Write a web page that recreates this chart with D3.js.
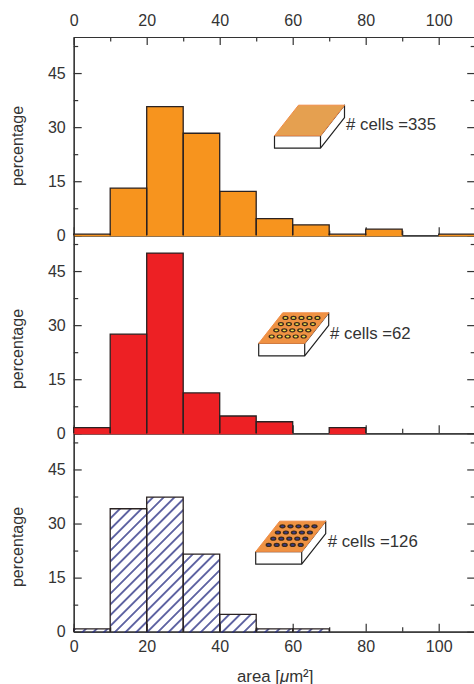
<!DOCTYPE html>
<html lang="en">
  <head>
    <meta charset="utf-8">
    <title>cell area histograms</title>
    <script src="https://d3js.org/d3.v7.min.js"></script>
    <style type="text/css">
        html, body { margin: 0; padding: 0; background: #fff; overflow: hidden; }
        svg { display: block; }
        text { font-family: "Liberation Sans", Arial, sans-serif; fill: #333; }
        .axis text { font-size: 16px; }
        .axis path, .axis line { stroke: #333; stroke-width: 1.2px; }
        .label { font-size: 16.8px; }
        .ylabel { font-size: 16px; }
    </style>
  </head>
  <body>
    <div id="chart"></div>
    <script>
        // bin edges and percentage per 10 um2 bin
        var binEdges = [0, 10, 20, 30, 40, 50, 60, 70, 80, 90, 100, 110];
        var orangeValues = [0.3, 13.1, 35.7, 28.3, 12.2, 4.6, 2.9, 0.3, 1.7, 0, 0.3];
        var redValues = [1.6, 27.5, 50, 11.2, 4.8, 3.2, 0, 1.6, 0, 0, 0];
        var hatchValues = [0.8, 34.1, 37.3, 21.5, 4.8, 0.8, 0.8, 0, 0, 0, 0];
        var cellCounts = [335, 62, 126];

        var xMajor = [0, 20, 40, 60, 80, 100];
        var xMinor = [10, 30, 50, 70, 90];
        var yMajor = [0, 15, 30, 45];
        var yMinor = [7.5, 22.5, 37.5, 52.5];

        var width = 474, height = 684;
        var panelHeight = 198.3;

        var svg = d3.select("#chart").append("svg")
            .attr("width", width)
            .attr("height", height);

        svg.append("defs").append("pattern")
            .attr("id", "hatch")
            .attr("patternUnits", "userSpaceOnUse")
            .attr("width", 7.6)
            .attr("height", 7.6)
            .attr("patternTransform", "rotate(45)")
          .append("line")
            .attr("x1", 3.8).attr("x2", 3.8)
            .attr("y1", 0).attr("y2", 7.6)
            .attr("stroke", "#232a80")
            .attr("stroke-width", 1.4);

        var x = d3.scaleLinear().domain([0, 110]).range([73.7, 475.2]);

        var panels = [
          {values: orangeValues, fill: "#f7941e", top: 37, count: cellCounts[0], tile: [274.5, 135.7], textAt: [346, 130], labelY: 146},
          {values: redValues, fill: "#ed2024", top: 235, count: cellCounts[1], tile: [258.7, 343.3], textAt: [330, 339], labelY: 349, dots: "#f4e04d"},
          {values: hatchValues, fill: "url(#hatch)", top: 433.4, count: cellCounts[2], tile: [255.7, 551.7], textAt: [327.7, 546.7], labelY: 547, dots: "#3b3a8c"}
        ];

        function drawAxis(axis, tx, ty) {
          return svg.append("g")
            .attr("class", "axis")
            .attr("transform", "translate(" + tx + "," + ty + ")")
            .call(axis);
        }

        // top axis
        drawAxis(d3.axisTop(x).tickValues(xMajor).tickSize(-8).tickSizeOuter(0).tickPadding(8), 0, 37)
            .call(function(g) { g.selectAll("text").attr("y", -11); });
        drawAxis(d3.axisTop(x).tickValues(xMinor).tickSize(-4.5).tickSizeOuter(0).tickFormat(""), 0, 37);

        panels.forEach(function(p, i) {
          var y = d3.scaleLinear().domain([0, 55]).range([p.top + panelHeight, p.top]);
          var y0 = y(0);

          // axes go first, the filled bars sit over the baseline
          drawAxis(d3.axisBottom(x).tickValues(xMajor).tickSize(-8).tickSizeOuter(0).tickFormat(i == 2 ? null : ""), 0, y0)
              .call(function(g) { g.selectAll("text").attr("y", 9); });
          drawAxis(d3.axisBottom(x).tickValues(xMinor).tickSize(-4.5).tickSizeOuter(0).tickFormat(""), 0, y0);
          drawAxis(d3.axisLeft(y).tickValues(yMajor).tickSize(-8).tickSizeOuter(0).tickPadding(8), x(0), 0);
          drawAxis(d3.axisLeft(y).tickValues(yMinor).tickSize(-4.5).tickSizeOuter(0).tickFormat(""), x(0), 0);
          drawAxis(d3.axisRight(y).tickValues(yMajor).tickSize(-8).tickSizeOuter(0).tickFormat(""), x(110), 0);
          drawAxis(d3.axisRight(y).tickValues(yMinor).tickSize(-4.5).tickSizeOuter(0).tickFormat(""), x(110), 0);

          var bins = p.values.map(function(v, k) {
            return {x0: binEdges[k], x1: binEdges[k + 1], v: v};
          }).filter(function(d) { return d.v > 0; });

          svg.append("g").selectAll("rect")
            .data(bins)
            .enter().append("rect")
              .attr("x", function(d) { return x(d.x0); })
              .attr("width", function(d) { return x(d.x1) - x(d.x0); })
              .attr("y", function(d) { return y(d.v); })
              .attr("height", function(d) { return y0 - y(d.v) + 1; })
              .attr("fill", p.fill);

          // outline has no bottom edge
          svg.append("g").selectAll("path")
            .data(bins)
            .enter().append("path")
              .attr("d", function(d) {
                return "M" + x(d.x0) + "," + y0 + "V" + y(d.v) + "H" + x(d.x1) + "V" + y0;
              })
              .attr("fill", "none")
              .attr("stroke", "#2a2222")
              .attr("stroke-width", 1.3);

          svg.append("text")
            .attr("class", "ylabel")
            .attr("transform", "translate(23," + p.labelY + ") rotate(-90)")
            .attr("text-anchor", "middle")
            .text("percentage");

          svg.append("text")
            .attr("class", "label")
            .attr("x", p.textAt[0])
            .attr("y", p.textAt[1])
            .text("# cells =" + p.count);

          drawTile(p.tile[0], p.tile[1], p.dots);
        });

        // little substrate sketch, origin is the front left corner of the top face
        function drawTile(ox, oy, dotColor) {
          var g = svg.append("g").attr("transform", "translate(" + ox + "," + oy + ")");
          g.append("path")
            .attr("d", "M0,0V12.5H46L70,-18V-30.5L46,0V12.5M0,0H46")
            .attr("fill", "#fff")
            .attr("stroke", "#222")
            .attr("stroke-width", 1.2)
            .attr("stroke-linejoin", "round");
          g.append("path")
            .attr("d", "M0,0L24,-30.5H70L46,0Z")
            .attr("fill", dotColor ? "#ef9243" : "#e5a050")
            .attr("stroke", "#f08c46")
            .attr("stroke-width", 1);
          if (!dotColor) return;
          d3.range(4).forEach(function(r) {
            d3.range(5).forEach(function(c) {
              var cx = 13 + r * 4.6 + c * 8, cy = -6.8 - r * 6.2;
              g.append("ellipse")
                .attr("cx", cx).attr("cy", cy)
                .attr("rx", 3.1).attr("ry", 2.1)
                .attr("fill", "#3a2a1a");
              g.append("ellipse")
                .attr("cx", cx).attr("cy", cy)
                .attr("rx", 1.7).attr("ry", 0.9)
                .attr("fill", dotColor);
            });
          });
        }

        var title = svg.append("text")
            .attr("class", "label")
            .attr("x", 237)
            .attr("y", 681.5);
        title.append("tspan").text("area [");
        title.append("tspan").attr("font-style", "italic").text("\u03bc");
        title.append("tspan").text("m\u00b2]");
    </script>
  </body>
</html>
